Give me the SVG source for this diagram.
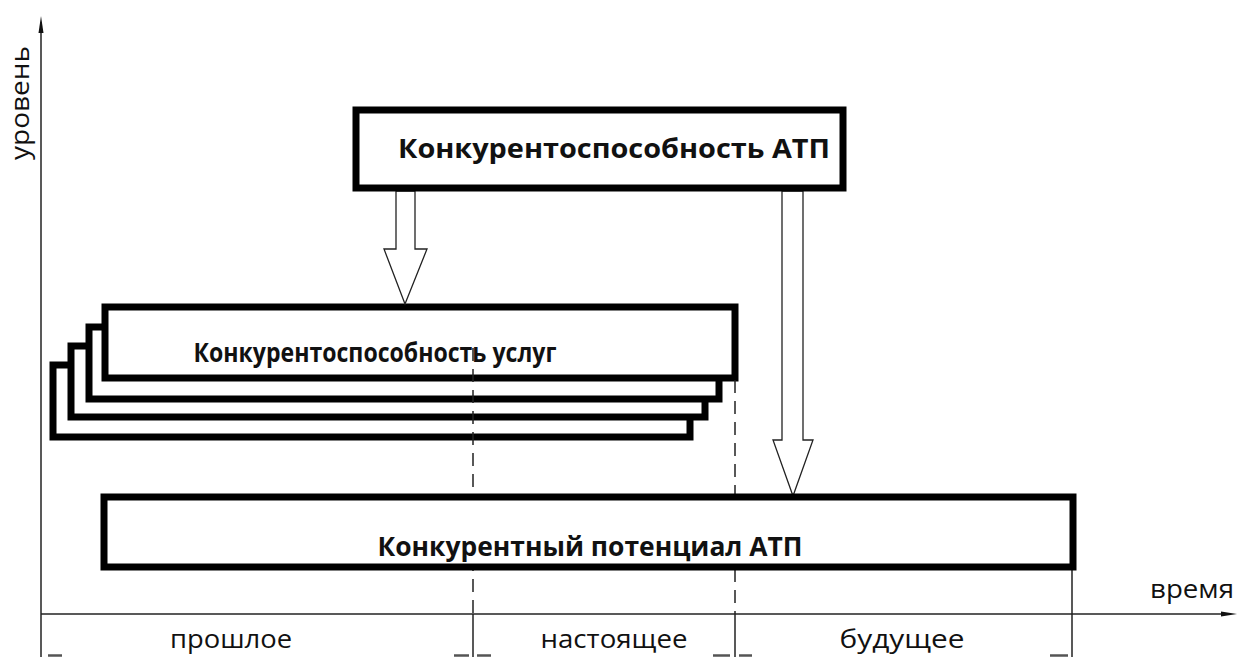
<svg xmlns="http://www.w3.org/2000/svg" width="1237" height="657" viewBox="0 0 1237 657">
<style>
.box{fill:#fff;stroke:#000;stroke-width:7}
.bt{font-family:"Open Sans","Liberation Sans",sans-serif;font-weight:bold;font-size:26px;fill:#111}
.lt{font-family:"Open Sans","Liberation Sans",sans-serif;font-size:26px;fill:#111}
.ax{stroke:#222;stroke-width:1.5;fill:none}
.dash{stroke:#222;stroke-width:1.5;stroke-dasharray:13,8;fill:none}
.harrow{fill:#fff;stroke:#222;stroke-width:1.3}
.tick{stroke:#555;stroke-width:2.5}
</style>
<rect width="1237" height="657" fill="#fff"/>
<g id="axes">
<line class="ax" x1="41" y1="22" x2="41" y2="657"/>
<polygon points="41,16 38.5,33 43.5,33" fill="#111"/>
<line class="ax" x1="41" y1="614" x2="1230" y2="614"/>
<polygon points="1237,614 1221,611.5 1221,616.5" fill="#111"/>
<text class="lt" transform="translate(29,103) rotate(-90)" text-anchor="middle" textLength="114" lengthAdjust="spacingAndGlyphs">уровень</text>
<text class="lt" x="1192" y="598" text-anchor="middle" textLength="84" lengthAdjust="spacingAndGlyphs">время</text>
</g>
<g id="stack">
<rect class="box" x="53" y="365" width="637" height="72"/>
<rect class="box" x="71" y="346" width="634" height="71"/>
<rect class="box" x="89" y="327" width="630" height="72"/>
</g>
<g id="services">
<rect class="box" x="105" y="307" width="630" height="71"/>
<text class="bt" x="375" y="362" text-anchor="middle" textLength="363" lengthAdjust="spacingAndGlyphs">Конкурентоспособность услуг</text>
</g>
<g id="connectors">
<line class="dash" x1="473" y1="348" x2="473" y2="614"/>
<line class="dash" x1="735" y1="380" x2="735" y2="614"/>
<line class="ax" x1="473" y1="614" x2="473" y2="657"/>
<line class="ax" x1="735" y1="614" x2="735" y2="657"/>
<line class="ax" x1="1072" y1="567" x2="1072" y2="657"/>
<polygon class="harrow" points="396,191 415,191 415,249 427,249 405,304 384,249 396,249"/>
<polygon class="harrow" points="782,191 803,191 803,440 813,440 793,496 773,440 782,440"/>
<line class="tick" x1="48" y1="655.5" x2="62" y2="655.5"/>
<line class="tick" x1="454" y1="655.5" x2="469" y2="655.5"/>
<line class="tick" x1="477" y1="655.5" x2="491" y2="655.5"/>
<line class="tick" x1="713" y1="655.5" x2="730" y2="655.5"/>
<line class="tick" x1="739" y1="655.5" x2="752" y2="655.5"/>
<line class="tick" x1="1050" y1="655.5" x2="1068" y2="655.5"/>
</g>
<g id="atp">
<rect class="box" x="356" y="110" width="487" height="78"/>
<text class="bt" x="614" y="158" text-anchor="middle" textLength="432" lengthAdjust="spacingAndGlyphs">Конкурентоспособность АТП</text>
</g>
<g id="potential">
<rect class="box" x="104" y="497" width="969" height="70"/>
<text class="bt" x="590" y="556" text-anchor="middle" textLength="425" lengthAdjust="spacingAndGlyphs">Конкурентный потенциал АТП</text>
</g>
<g id="periods">
<text class="lt" x="231" y="648" text-anchor="middle" textLength="122" lengthAdjust="spacingAndGlyphs">прошлое</text>
<text class="lt" x="614" y="648" text-anchor="middle" textLength="147" lengthAdjust="spacingAndGlyphs">настоящее</text>
<text class="lt" x="902" y="648" text-anchor="middle" textLength="125" lengthAdjust="spacingAndGlyphs">будущее</text>
</g>
</svg>
